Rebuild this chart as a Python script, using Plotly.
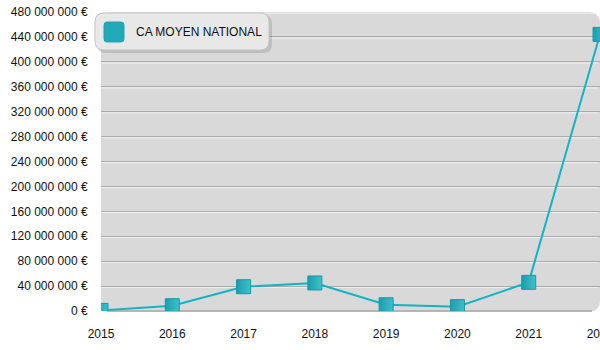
import plotly.graph_objects as go

# Chiffre d'affaires moyen national par année
years = [2015, 2016, 2017, 2018, 2019, 2020, 2021, 2022]
ca_moyen = [1_000_000, 8_500_000, 39_000_000, 45_000_000, 10_000_000, 7_000_000, 46_000_000, 444_000_000]

y_tickvals = [i * 40_000_000 for i in range(13)]
y_ticktext = ["0 €"] + [f"{v:,}".replace(",", " ") + " €" for v in y_tickvals[1:]]
x_tickvals = years
series_name = "CA MOYEN NATIONAL"

W, H = 600, 350
ML, MR, MT, MB = 101, 0, 12, 39
PW, PH = W - ML - MR, H - MT - MB

TEAL = "#12b3c6"
TEAL_DARK = "#1b9eac"
TEAL_LIGHT = "#3fc0cb"


def px(x):
    return (x - ML) / PW


def py(y):
    return 1 - (y - MT) / PH


def rounded_rect(x0, y0, x1, y1, r, bottom_round=True):
    """Rounded rectangle given in pixel coordinates (top-left origin), as a paper-space path."""
    rb = r if bottom_round else 0
    path = (
        f"M {px(x0 + r)},{py(y0)} L {px(x1 - r)},{py(y0)} "
        f"Q {px(x1)},{py(y0)} {px(x1)},{py(y0 + r)} "
        f"L {px(x1)},{py(y1 - rb)} "
    )
    if rb:
        path += f"Q {px(x1)},{py(y1)} {px(x1 - rb)},{py(y1)} L {px(x0 + rb)},{py(y1)} "
        path += f"Q {px(x0)},{py(y1)} {px(x0)},{py(y1 - rb)} "
    else:
        path += f"L {px(x0)},{py(y1)} "
    path += f"L {px(x0)},{py(y0 + r)} Q {px(x0)},{py(y0)} {px(x0 + r)},{py(y0)} Z"
    return path


fig = go.Figure()

fig.add_trace(
    go.Scatter(
        x=years,
        y=ca_moyen,
        mode="lines+markers",
        name=series_name,
        line=dict(color=TEAL, width=2),
        marker=dict(
            symbol="square",
            size=14,
            color=TEAL_DARK,
            gradient=dict(type="horizontal", color=TEAL_LIGHT),
            line=dict(color="#1a98a6", width=1),
        ),
        showlegend=False,
        cliponaxis=True,
    )
)

shapes = []
# plot background with rounded corners
shapes.append(
    dict(type="path", xref="paper", yref="paper", path=rounded_rect(ML, MT, 600, 312, 12),
         fillcolor="#d9d9d9", line=dict(width=0), layer="below")
)
# soft vertical shading: lighter towards the top
for k in range(1, 13):
    y_end = 312 - k * 24
    shapes.append(
        dict(type="path", xref="paper", yref="paper",
             path=rounded_rect(ML, MT, 600, y_end, 12, bottom_round=False),
             fillcolor="rgba(255,255,255,0.022)", line=dict(width=0), layer="below")
    )
# embossed gridlines: white highlight just below each grey line
for v in y_tickvals[1:]:
    shapes.append(
        dict(type="line", xref="paper", yref="y", ysizemode="pixel", yanchor=v,
             x0=0, x1=0.995, y0=-1.2, y1=-1.2, line=dict(color="#f2f2f2", width=1), layer="below")
    )
# bottom edge
shapes.append(
    dict(type="path", xref="paper", yref="paper",
         path=f"M {6 / PW},{0} L {(PW - 8) / PW},{0}",
         line=dict(color="#a9a9a9", width=1.5), layer="below")
)

# legend box with shadow
shapes.append(
    dict(type="path", xref="paper", yref="paper", path=rounded_rect(97, 15, 272, 53, 9),
         fillcolor="rgba(0,0,0,0.12)", line=dict(width=0), layer="above")
)
shapes.append(
    dict(type="path", xref="paper", yref="paper", path=rounded_rect(95, 13, 269, 50, 9),
         fillcolor="#e8e8e8", line=dict(color="#c4c4c4", width=1), layer="above")
)
shapes.append(
    dict(type="path", xref="paper", yref="paper", path=rounded_rect(104, 22, 124, 42, 3),
         fillcolor="#22aab8", line=dict(color="#1fa3b1", width=1), layer="above")
)

fig.update_layout(
    width=W,
    height=H,
    margin=dict(l=ML, r=MR, t=MT, b=MB, pad=0, autoexpand=False),
    paper_bgcolor="white",
    plot_bgcolor="rgba(0,0,0,0)",
    font=dict(family="Liberation Sans, Arial, sans-serif", size=12, color="#111111"),
    shapes=shapes,
    annotations=[
        dict(text=series_name, xref="paper", yref="paper",
             x=px(134), y=py(32), xanchor="left", yanchor="middle",
             showarrow=False, font=dict(size=12, color="#111111"))
    ],
    xaxis=dict(
        range=[2015, 2022],
        tickvals=x_tickvals,
        ticktext=[str(y) for y in x_tickvals],
        showgrid=False,
        zeroline=False,
        showline=False,
        ticks="outside",
        ticklen=12,
        tickcolor="rgba(0,0,0,0)",
        ticklabeloverflow="allow",
        automargin=False,
        fixedrange=True,
    ),
    yaxis=dict(
        range=[0, 480_000_000],
        tickvals=y_tickvals,
        ticktext=y_ticktext,
        showgrid=True,
        gridcolor="#ababab",
        gridwidth=1,
        zeroline=False,
        showline=False,
        ticks="outside",
        ticklen=10,
        tickcolor="rgba(0,0,0,0)",
        automargin=False,
        fixedrange=True,
    ),
)

fig.write_html("out.html")
